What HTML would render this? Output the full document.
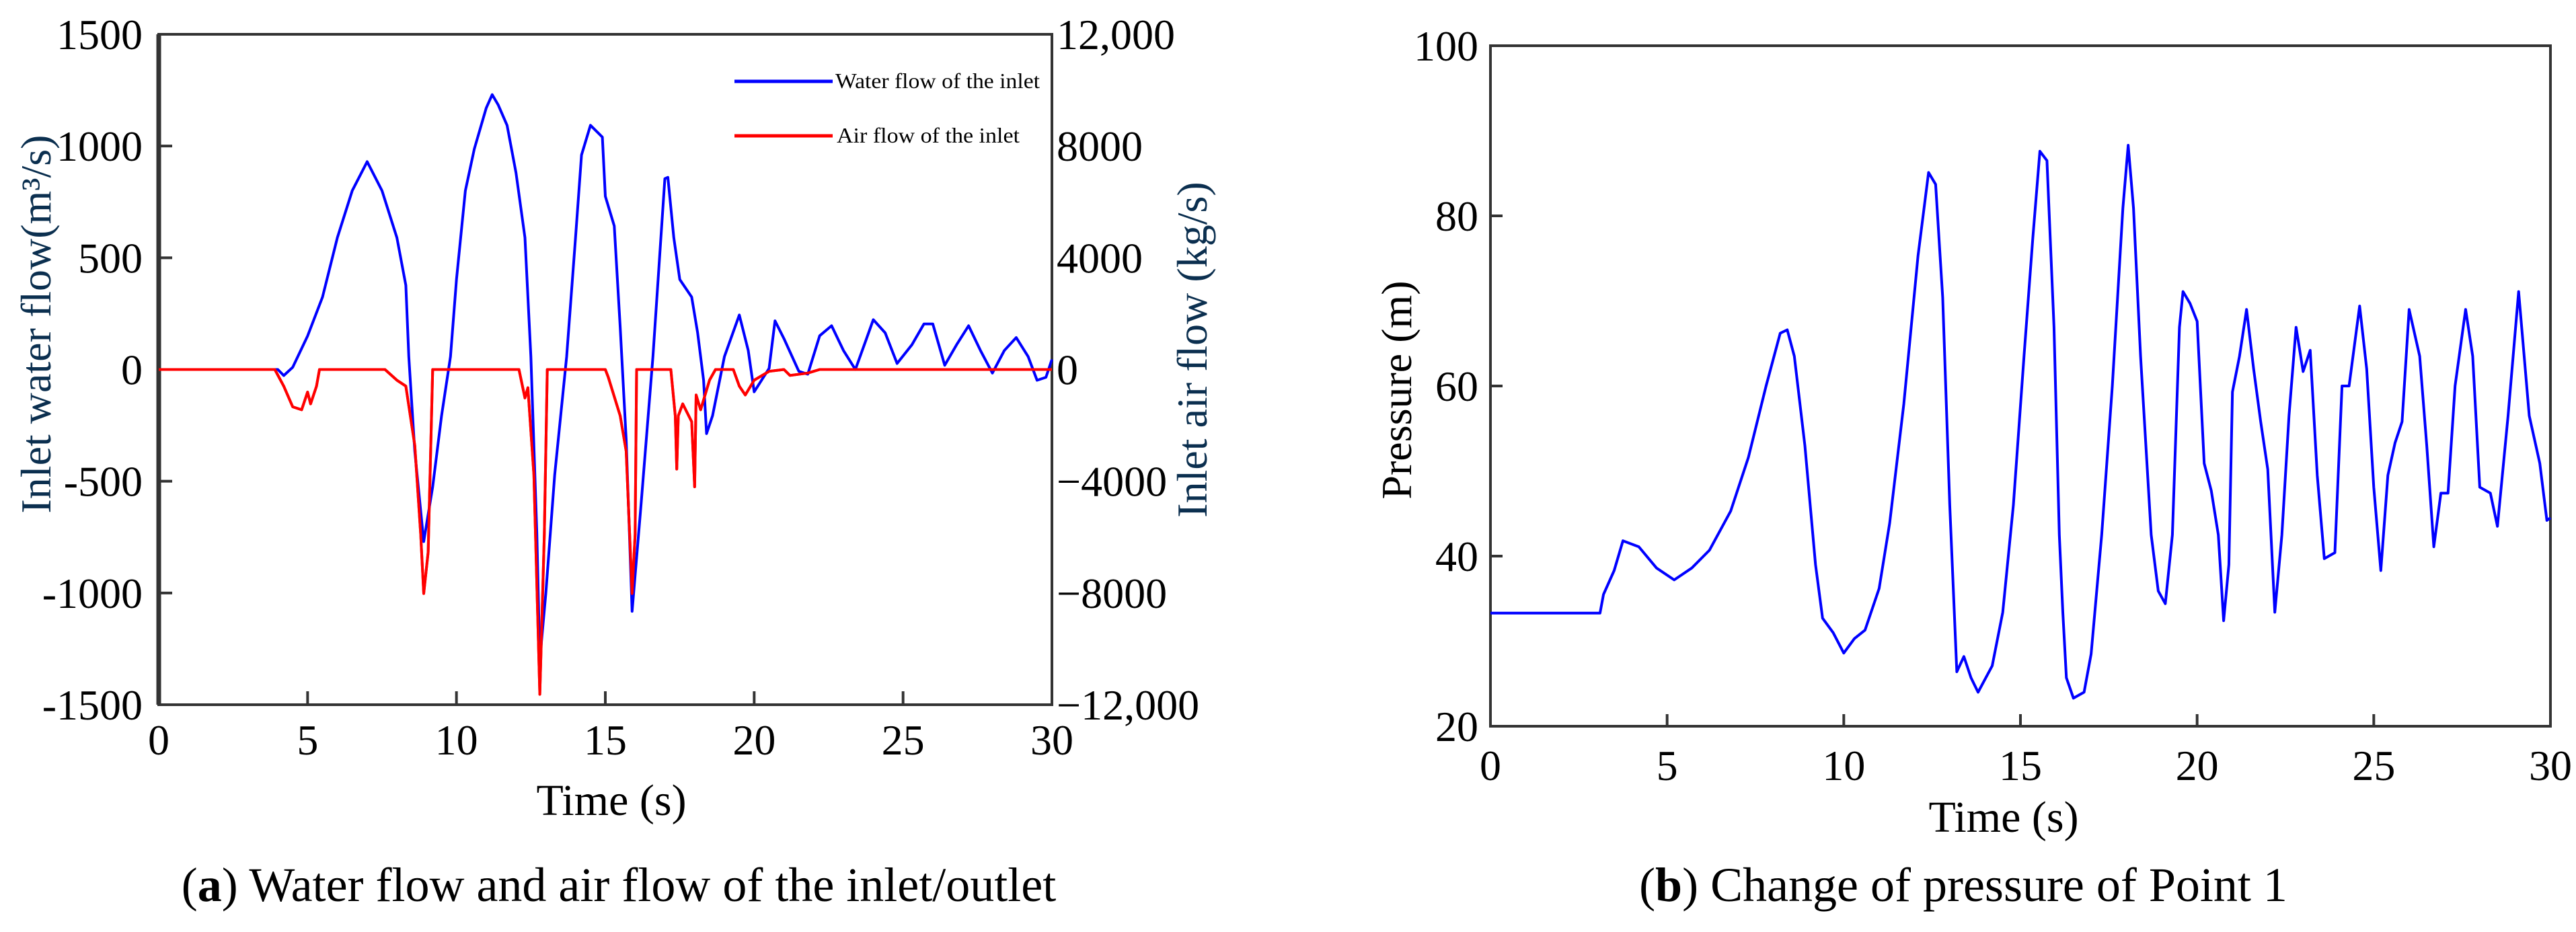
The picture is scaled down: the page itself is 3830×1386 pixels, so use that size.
<!DOCTYPE html>
<html><head><meta charset="utf-8"><style>
html,body{margin:0;padding:0;background:#fff;}
svg{display:block;font-family:"Liberation Serif",serif;}
</style></head><body>
<svg id="fig" width="3830" height="1386" viewBox="0 0 3830 1386" xmlns="http://www.w3.org/2000/svg">
<rect width="3830" height="1386" fill="#fff"/>
<g id="pa"></g>
<g id="pb"></g>
<text x="920" y="1340" font-size="72" text-anchor="middle" fill="#000">(<tspan font-weight="bold">a</tspan>) Water flow and air flow of the inlet/outlet</text>
<text x="2919" y="1340" font-size="72" text-anchor="middle" fill="#000">(<tspan font-weight="bold">b</tspan>) Change of pressure of Point 1</text>
</svg>
<script>
const waterT=[0,4.0,4.2,4.5,5.0,5.5,6.0,6.5,7.0,7.5,8.0,8.3,8.4,8.6,8.9,9.2,9.5,9.8,10.0,10.3,10.6,11.0,11.2,11.4,11.7,12.0,12.3,12.5,12.7,12.8,13.0,13.3,13.7,14.0,14.2,14.5,14.9,15.0,15.3,15.5,15.7,15.9,16.2,16.6,17.0,17.1,17.3,17.5,17.9,18.1,18.3,18.4,18.6,19.0,19.5,19.8,20.0,20.5,20.7,21.0,21.5,21.8,22.2,22.6,23.0,23.4,23.7,24.0,24.4,24.8,25.3,25.7,26.0,26.4,26.8,27.2,27.6,28.0,28.4,28.8,29.2,29.5,29.8,30];
const waterV=[0,0,-27,10,150,324,590,800,930,800,590,377,58,-366,-770,-525,-207,58,403,800,987,1170,1230,1185,1093,880,590,58,-737,-1300,-1003,-472,58,590,960,1093,1040,775,642,190,-313,-1082,-605,58,854,860,590,403,324,165,-48,-287,-207,58,244,85,-100,5,218,138,-8,-21,151,196,85,0,111,223,164,27,111,204,204,19,111,196,85,-16,85,143,58,-48,-35,45];
const airT=[0,3.9,4.2,4.5,4.8,5.0,5.1,5.3,5.4,7.6,8.0,8.3,8.6,8.8,8.9,9.05,9.2,12.1,12.3,12.4,12.6,12.8,12.95,13.05,15.0,15.1,15.5,15.7,15.9,16.0,16.05,17.2,17.35,17.4,17.45,17.6,17.9,18.0,18.05,18.2,18.5,18.7,19.3,19.5,19.7,20.0,20.5,21.0,21.2,21.8,22.2,30];
const airV=[0,0,-597,-1337,-1443,-806,-1230,-594,0,0,-382,-594,-2716,-5900,-8021,-6535,0,0,-1019,-650,-3777,-11630,-5900,0,0,-276,-1655,-2928,-8021,-5900,0,0,-1655,-3565,-1655,-1230,-1867,-4201,-912,-1443,-382,0,0,-594,-912,-382,-64,0,-212,-127,0,0];
const presT=[0,3.1,3.2,3.5,3.75,4.2,4.7,5.2,5.7,6.2,6.8,7.3,7.8,8.2,8.4,8.6,8.9,9.2,9.4,9.7,10.0,10.3,10.6,11.0,11.3,11.7,12.1,12.4,12.6,12.8,13.0,13.2,13.4,13.6,13.8,14.2,14.5,14.8,15.1,15.35,15.55,15.75,15.95,16.1,16.2,16.3,16.5,16.8,17.0,17.3,17.6,17.9,18.05,18.2,18.4,18.7,18.9,19.1,19.3,19.5,19.6,19.8,20.0,20.2,20.4,20.6,20.75,20.9,21.0,21.2,21.4,21.6,21.8,22.0,22.2,22.4,22.6,22.8,23.0,23.2,23.4,23.6,23.9,24.1,24.3,24.6,24.8,25.0,25.2,25.4,25.6,25.8,26.0,26.3,26.5,26.7,26.9,27.1,27.3,27.6,27.8,28.0,28.3,28.5,28.8,29.1,29.4,29.7,29.9,30];
const presV=[33.3,33.3,35.5,38.3,41.8,41.1,38.6,37.2,38.6,40.7,45.3,51.6,60,66.2,66.6,63.5,53,39,32.7,31,28.6,30.3,31.3,36.2,43.9,57.9,75.3,85.1,83.7,70.4,46,26.4,28.2,25.7,24,27.1,33.4,46,63.5,77.4,87.6,86.5,66.9,42.5,33.4,25.7,23.3,24,28.5,42.5,60,80.9,88.3,80.9,63.5,42.5,35.9,34.4,42.5,66.9,71.1,69.7,67.6,50.9,47.7,42.5,32.4,39,59.3,63.5,69,62,55.8,50.2,33.4,42.5,56.5,66.9,61.7,64.2,49.5,39.7,40.4,60,60,69.4,62,48.1,38.3,49.5,53.3,55.8,69,63.5,53,41.1,47.4,47.4,60,69,63.5,48.1,47.4,43.5,56.5,71.1,56.5,50.9,44.2,44.5];
const xTicks=[0,5,10,15,20,25,30];
const leftTicksA=[1500,1000,500,0,-500,-1000,-1500];
const rightTicksA=[12000,8000,4000,0,-4000,-8000,-12000];
const rightTickLabelsA=["12,000","8000","4000","0","\u22124000","\u22128000","\u221212,000"];
const yTicksB=[100,80,60,40,20];

const NS="http://www.w3.org/2000/svg";
function mk(parent,tag,attrs,txt){const e=document.createElementNS(NS,tag);for(const k in attrs)e.setAttribute(k,attrs[k]);if(txt!==undefined)e.textContent=txt;parent.appendChild(e);return e;}

// Chart A
const A={l:236,r:1564,t:51,b:1048};
const axA=t=>A.l+(t/30)*(A.r-A.l);
const ayL=v=>A.t+(1500-v)/3000*(A.b-A.t);
const ayR=v=>A.t+(12000-v)/24000*(A.b-A.t);
const ga=document.getElementById('pa');
let e;
e=mk(ga,'rect',{x:A.l,y:A.t,width:A.r-A.l,height:A.b-A.t,fill:'none',stroke:'#333','stroke-width':4});


e=mk(ga,'line',{x1:A.l,y1:A.t,x2:A.l,y2:A.b,stroke:'#333','stroke-width':7});


xTicks.forEach(t=>{
  e=mk(ga,'line',{x1:axA(t),y1:A.b,x2:axA(t),y2:A.b-20,stroke:'#333','stroke-width':4});
  
  
  e=mk(ga,'text',{x:axA(t),y:A.b+74,'font-size':64,'text-anchor':'middle',fill:'#000'},String(t));
  
  
});
leftTicksA.forEach(v=>{
  e=mk(ga,'line',{x1:A.l,y1:ayL(v),x2:A.l+20,y2:ayL(v),stroke:'#333','stroke-width':4});
  
  
  e=mk(ga,'text',{x:212,y:ayL(v)+22,'font-size':64,'text-anchor':'end',fill:'#000'},v<0?'-'+Math.abs(v):String(v));
  
  
});
rightTicksA.forEach((v,i)=>{
  e=mk(ga,'text',{x:1571,y:ayR(v)+22,'font-size':64,fill:'#000'},rightTickLabelsA[i]);
  
  
});
e=mk(ga,'text',{x:0,y:0,'font-size':64,'text-anchor':'middle',fill:'#0b2f4f',transform:'translate(75,482) rotate(-90)'},'Inlet water flow(m³/s)');


e=mk(ga,'text',{x:0,y:0,'font-size':64,'text-anchor':'middle',fill:'#0b2f4f',transform:'translate(1794,520) rotate(-90)'},'Inlet air flow (kg/s)');


e=mk(ga,'text',{x:909,y:1212,'font-size':66,'text-anchor':'middle',fill:'#000'},'Time (s)');


e=mk(ga,'polyline',{points:airT.map((t,i)=>axA(t).toFixed(1)+','+ayR(airV[i]).toFixed(1)).join(' '),fill:'none',stroke:'#ff0000','stroke-width':4,'stroke-linejoin':'round'});


e=mk(ga,'polyline',{points:waterT.map((t,i)=>axA(t).toFixed(1)+','+ayL(waterV[i]).toFixed(1)).join(' '),fill:'none',stroke:'#0000ff','stroke-width':4,'stroke-linejoin':'round'});


// redraw air on top where it overlays at zero in reference (air drawn above water)
e=mk(ga,'polyline',{points:airT.map((t,i)=>axA(t).toFixed(1)+','+ayR(airV[i]).toFixed(1)).join(' '),fill:'none',stroke:'#ff0000','stroke-width':4,'stroke-linejoin':'round'});


e=mk(ga,'line',{x1:1092,y1:121,x2:1238,y2:121,stroke:'#0000ff','stroke-width':5});


e=mk(ga,'text',{x:1242,y:131,'font-size':32,textLength:304,lengthAdjust:'spacingAndGlyphs',fill:'#000'},'Water flow of the inlet');


e=mk(ga,'line',{x1:1092,y1:202,x2:1238,y2:202,stroke:'#ff0000','stroke-width':5});


e=mk(ga,'text',{x:1244,y:212,'font-size':32,textLength:272,lengthAdjust:'spacingAndGlyphs',fill:'#000'},'Air flow of the inlet');



// Chart B
const B={l:2216,r:3792,t:68,b:1080};
const bx=t=>B.l+(t/30)*(B.r-B.l);
const by=v=>B.t+(100-v)/80*(B.b-B.t);
const gb=document.getElementById('pb');
e=mk(gb,'rect',{x:B.l,y:B.t,width:B.r-B.l,height:B.b-B.t,fill:'none',stroke:'#333','stroke-width':4});


xTicks.forEach(t=>{
  e=mk(gb,'line',{x1:bx(t),y1:B.b,x2:bx(t),y2:B.b-18,stroke:'#333','stroke-width':4});
  
  
  e=mk(gb,'text',{x:bx(t),y:B.b+80,'font-size':64,'text-anchor':'middle',fill:'#000'},String(t));
  
  
});
yTicksB.forEach(v=>{
  e=mk(gb,'line',{x1:B.l,y1:by(v),x2:B.l+18,y2:by(v),stroke:'#333','stroke-width':4});
  
  
  e=mk(gb,'text',{x:2198,y:by(v)+22,'font-size':64,'text-anchor':'end',fill:'#000'},String(v));
  
  
});
e=mk(gb,'text',{x:0,y:0,'font-size':64,'text-anchor':'middle',fill:'#000',transform:'translate(2098,580) rotate(-90)'},'Pressure (m)');


e=mk(gb,'text',{x:2979,y:1237,'font-size':66,'text-anchor':'middle',fill:'#000'},'Time (s)');


e=mk(gb,'polyline',{points:presT.map((t,i)=>bx(t).toFixed(1)+','+by(presV[i]).toFixed(1)).join(' '),fill:'none',stroke:'#0000ff','stroke-width':4,'stroke-linejoin':'round'});


</script>
</body></html>
